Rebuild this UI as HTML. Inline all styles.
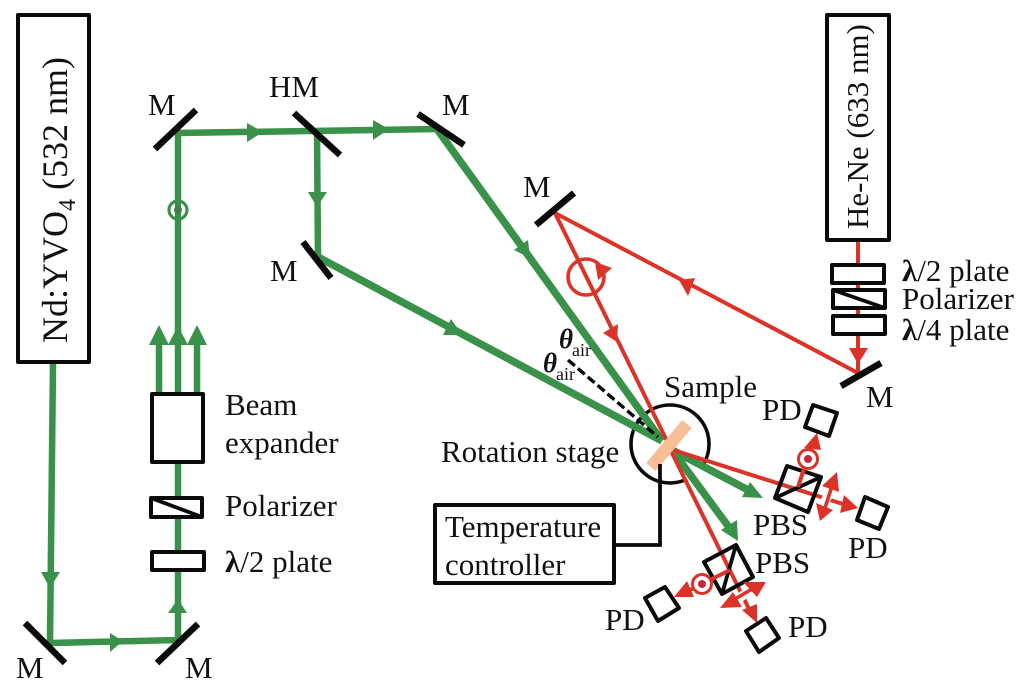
<!DOCTYPE html>
<html><head><meta charset="utf-8"><style>
html,body{margin:0;padding:0;background:#fff}
svg{display:block}
text{font-family:"Liberation Serif",serif;font-size:31px;fill:#111}
.g{stroke:#3a914a;fill:none;stroke-width:6.5}
.gd{stroke:#3a914a;fill:none;stroke-width:7.5}
.r{stroke:#dc3328;fill:none;stroke-width:4}
.gf{fill:#3a914a}
.rf{fill:#dc3328}
.k{stroke:#0a0a0a;fill:#fff;stroke-width:4;stroke-linejoin:round}
.n{stroke:#0a0a0a;fill:none;stroke-width:3.8}
.m{stroke:#0a0a0a;fill:none;stroke-width:6.5}
</style></head><body>
<svg width="1024" height="690" viewBox="0 0 1024 690" xmlns="http://www.w3.org/2000/svg">
<!-- sample stage circle (under beams) -->
<circle cx="670" cy="444" r="39" fill="none" stroke="#0a0a0a" stroke-width="3.6"/>
<line x1="687" y1="479" x2="701" y2="469" stroke="#fff" stroke-width="7"/>
<!-- green beams -->
<polyline class="g" points="53,363 50,643 178,640 178,133 437,129"/>
<line class="gd" x1="437" y1="129" x2="662" y2="441"/>
<polyline class="g" points="317,132 318,257"/>
<line class="gd" x1="318" y1="257" x2="662" y2="441"/>
<polyline class="g" points="159,394 159,340"/>
<polyline class="g" points="197,394 197,340"/>
<line class="gd" x1="672" y1="450" x2="750" y2="491"/>
<line class="gd" x1="672" y1="450" x2="731" y2="530"/>
<!-- green heads -->
<polygon class="gf" points="159,325 149,345 169,345"/>
<polygon class="gf" points="178,326 168,345 188,345"/>
<polygon class="gf" points="197,325 187,345 207,345"/>
<polygon class="gf" points="50,588 41,572 60,572"/>
<polygon class="gf" points="123,641 110,633 110,652"/>
<polygon class="gf" points="178,599 168,613 187,613"/>
<polygon class="gf" points="263,132 247,123 247,142"/>
<polygon class="gf" points="389,129 373,120 373,140"/>
<polygon class="gf" points="317,207 308,192 327,192"/>
<polygon class="gf" points="530,258 514,250 528,240"/>
<polygon class="gf" points="462,335 443,335 451,319"/>
<polygon class="gf" points="763,498 742,497 750,482"/>
<polygon class="gf" points="738,541 721,530 737,520"/>
<circle cx="178" cy="210" r="9" fill="#fff" stroke="#3a914a" stroke-width="3.2"/>
<rect x="175" y="201" width="6" height="18" fill="#3a914a"/>
<circle cx="178" cy="210" r="4" fill="#3f7f4d"/>
<!-- red beams -->
<polyline class="r" points="858,240 858,373 555,213 668,443"/>
<line class="r" x1="670" y1="449" x2="846" y2="505"/>
<line class="r" x1="670" y1="449" x2="750" y2="611"/>
<polygon class="rf" points="858,364 849,348 868,348"/>
<polygon class="rf" points="679,280 695,278 688,296"/>
<polygon class="rf" points="617,342 603,333 618,324"/>
<circle cx="586" cy="277" r="18" fill="none" stroke="#dc3328" stroke-width="3.6"/>
<polygon class="rf" points="612,268 595,262 598,280"/>
<polygon class="rf" points="858,508 840,513 844,495"/>
<polygon class="rf" points="757,623 742,610 757,604"/>
<!-- dashed -->
<line x1="568" y1="360" x2="658" y2="437" stroke="#0a0a0a" stroke-width="3.4" stroke-dasharray="9 4"/>
<!-- sample bar -->
<line x1="687" y1="424" x2="651" y2="467" stroke="#f7bf98" stroke-width="12.5"/>
<!-- PBS -->
<polygon class="k" points="787,466 821,477 808,512 775,498" fill="none" style="fill:none"/>
<line class="n" x1="775" y1="498" x2="821" y2="477"/>
<polygon class="k" points="736,545 753,577 722,594 704,562" style="fill:none"/>
<line class="n" x1="736" y1="545" x2="722" y2="594"/>
<!-- polarisation PBS1 -->
<line class="r" x1="798" y1="487" x2="813" y2="442"/>
<polygon class="rf" points="817,433 804,448 821,450"/>
<circle cx="808" cy="459" r="9.5" fill="#fff" stroke="#dc3328" stroke-width="3"/>
<circle cx="808" cy="459" r="4" fill="#c8283a"/>
<line x1="832" y1="488" x2="823" y2="505" stroke="#fff" stroke-width="9"/>
<line x1="832" y1="486" x2="825" y2="508" stroke="#dc3328" stroke-width="3.6"/>
<polygon class="rf" points="837,472 822,486 839,492"/>
<polygon class="rf" points="820,521 816,503 833,510"/>
<!-- polarisation PBS2 -->
<line class="r" x1="730" y1="570" x2="684" y2="593"/>
<polygon class="rf" points="674,597 687,581 694,597"/>
<circle cx="702" cy="584" r="9.5" fill="#fff" stroke="#dc3328" stroke-width="3"/>
<circle cx="702" cy="584" r="4" fill="#c8283a"/>
<line x1="750" y1="590" x2="737" y2="600" stroke="#fff" stroke-width="9"/>
<line x1="752" y1="589" x2="735" y2="599" stroke="#dc3328" stroke-width="3.6"/>
<polygon class="rf" points="766,582 743,582 757,597"/>
<polygon class="rf" points="720,608 733,592 742,607"/>
<!-- PDs -->
<polygon class="k" points="813,405 837,413 829,436 805,427"/>
<polygon class="k" points="865,497 888,507 879,529 857,520"/>
<polygon class="k" points="665,587 679,608 658,621 645,598"/>
<polygon class="k" points="766,618 779,638 759,652 746,631"/>
<!-- mirrors -->
<line class="m" x1="25" y1="623" x2="65" y2="663"/>
<line class="m" x1="198" y1="624" x2="157" y2="663"/>
<line class="m" x1="196" y1="110" x2="155" y2="149"/>
<line class="m" x1="294" y1="113" x2="340" y2="155"/>
<line class="m" x1="418" y1="114" x2="464" y2="145"/>
<line class="m" x1="303" y1="242" x2="331" y2="278"/>
<line class="m" x1="574" y1="193" x2="536" y2="225"/>
<line class="m" x1="881" y1="363" x2="841" y2="386"/>
<!-- boxes -->
<rect class="k" x="18" y="15" width="71" height="347"/>
<rect class="k" x="827" y="15" width="62" height="225"/>
<rect class="k" x="152" y="394" width="51" height="68"/>
<rect class="k" x="151" y="498" width="51" height="19"/>
<line class="n" x1="151" y1="498" x2="202" y2="517"/>
<rect class="k" x="152" y="552" width="52" height="18"/>
<rect class="k" x="832" y="265" width="52" height="18"/>
<rect class="k" x="833" y="290" width="52" height="18"/>
<line class="n" x1="833" y1="290" x2="885" y2="308"/>
<rect class="k" x="833" y="316" width="52" height="18"/>
<rect class="k" x="435" y="505" width="179" height="78"/>
<polyline class="n" points="614,545 660,545 660,464"/>
<!-- labels -->
<text transform="translate(67,343) rotate(-90)" style="font-size:36px">Nd:YVO<tspan dy="8" style="font-size:24px">4</tspan><tspan dy="-8"> (532 nm)</tspan></text>
<text transform="translate(868,229) rotate(-90)">He-Ne (633 nm)</text>
<text x="148" y="115">M</text>
<text x="269" y="97">HM</text>
<text x="442" y="115">M</text>
<text x="523" y="197">M</text>
<text x="270" y="281">M</text>
<text x="16" y="678">M</text>
<text x="185" y="678">M</text>
<text x="866" y="407">M</text>
<text x="225" y="415">Beam</text>
<text x="225" y="453">expander</text>
<text x="225" y="516">Polarizer</text>
<text x="225" y="572"><tspan font-weight="bold">λ</tspan>/2 plate</text>
<text x="902" y="281"><tspan font-weight="bold">λ</tspan>/2 plate</text>
<text x="902" y="309">Polarizer</text>
<text x="902" y="340"><tspan font-weight="bold">λ</tspan>/4 plate</text>
<text x="664" y="397">Sample</text>
<text x="441" y="462">Rotation stage</text>
<text x="445" y="537">Temperature</text>
<text x="445" y="575">controller</text>
<text x="762" y="420">PD</text>
<text x="848" y="558">PD</text>
<text x="605" y="630">PD</text>
<text x="788" y="637">PD</text>
<text x="753" y="535">PBS</text>
<text x="755" y="573">PBS</text>
<text x="559" y="348" style="font-size:27px;font-style:italic;font-weight:bold">θ</text>
<text x="572" y="356" style="font-size:18px">air</text>
<text x="543" y="372" style="font-size:27px;font-style:italic;font-weight:bold">θ</text>
<text x="556" y="380" style="font-size:18px">air</text>
</svg>
</body></html>
